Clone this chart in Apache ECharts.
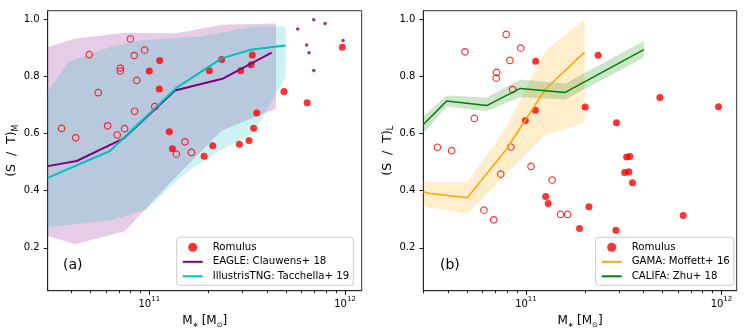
<!DOCTYPE html>
<html>
<head>
<meta charset="utf-8">
<script src="https://cdn.jsdelivr.net/npm/echarts@6/dist/echarts.min.js"></script>
<style>
  html, body { margin: 0; padding: 0; background: #fff; }
  #chart { width: 748px; height: 334px; }
</style>
</head>
<body>
<div id="chart"></div>
<script>
// 数据都是 log10(M*/Msun) 和 S/T 的读数
// (a) 质量加权
var aOpenX = [10.552, 10.624, 10.693, 10.739, 10.787, 10.836, 10.852, 10.852, 10.874, 10.903, 10.923, 10.925, 10.936, 10.976, 11.028, 11.138, 11.182, 11.215];
var aOpenY = [0.618, 0.585, 0.876, 0.743, 0.627, 0.595, 0.829, 0.819, 0.617, 0.931, 0.873, 0.678, 0.786, 0.892, 0.694, 0.528, 0.571, 0.534];
var aFillX = [11.000, 11.053, 11.051, 11.102, 11.118, 11.280, 11.307, 11.324, 11.370, 11.460, 11.467, 11.509, 11.520, 11.526, 11.533, 11.549, 11.688, 11.806, 11.986];
var aFillY = [0.819, 0.856, 0.756, 0.606, 0.547, 0.521, 0.820, 0.557, 0.859, 0.563, 0.820, 0.576, 0.841, 0.875, 0.619, 0.672, 0.747, 0.708, 0.902];
var eagleDotX = [11.758, 11.840, 11.898, 11.804, 11.816, 11.840, 11.990];
var eagleDotY = [0.966, 0.998, 0.985, 0.910, 0.883, 0.821, 0.926];

var eagleX = [10.481, 10.629, 10.867, 11.131, 11.378, 11.625];
var eagleY = [0.486, 0.504, 0.582, 0.751, 0.793, 0.883];
var eagleBandX = [10.481, 10.620, 10.875, 11.131, 11.370, 11.647];
var eagleHi = [0.903, 0.932, 0.953, 0.950, 0.981, 0.985];
var eagleLo = [0.242, 0.213, 0.258, 0.445, 0.611, 0.687];

var tngX = [10.481, 10.799, 11.140, 11.370, 11.523, 11.697];
var tngY = [0.445, 0.539, 0.761, 0.863, 0.894, 0.908];
var tngHiX = [10.481, 10.591, 10.806, 10.952, 11.259, 11.530, 11.697];
var tngHi = [0.749, 0.852, 0.904, 0.926, 0.940, 0.975, 0.975];
var tngLoX = [10.481, 10.799, 10.983, 11.174, 11.361, 11.531, 11.697];
var tngLo = [0.272, 0.296, 0.333, 0.457, 0.541, 0.600, 0.798];

// (b) 光度加权
var bOpenX = [10.547, 10.620, 10.688, 10.736, 10.785, 10.835, 10.850, 10.848, 10.871, 10.899, 10.918, 10.923, 10.932, 10.973, 11.026, 11.134, 11.177, 11.213];
var bOpenY = [0.552, 0.540, 0.886, 0.653, 0.332, 0.298, 0.814, 0.794, 0.458, 0.947, 0.856, 0.553, 0.754, 0.899, 0.485, 0.437, 0.317, 0.317];
var bFillX = [10.997, 11.050, 11.048, 11.101, 11.114, 11.274, 11.303, 11.322, 11.369, 11.460, 11.463, 11.515, 11.531, 11.505, 11.526, 11.545, 11.685, 11.804, 11.985];
var bFillY = [0.646, 0.853, 0.682, 0.380, 0.355, 0.268, 0.693, 0.344, 0.874, 0.262, 0.638, 0.518, 0.520, 0.464, 0.466, 0.428, 0.726, 0.313, 0.694];

var gamaX = [10.475, 10.504, 10.700, 10.900, 11.100, 11.300];
var gamaY = [0.396, 0.391, 0.375, 0.545, 0.756, 0.885];
var gamaHi = [0.436, 0.430, 0.430, 0.623, 0.891, 0.999];
var gamaLo = [0.346, 0.342, 0.319, 0.459, 0.596, 0.637];

var califaX = [10.475, 10.595, 10.799, 10.971, 11.201, 11.603];
var califaY = [0.632, 0.714, 0.698, 0.758, 0.744, 0.894];
var califaHi = [0.661, 0.733, 0.726, 0.789, 0.775, 0.924];
var califaLo = [0.602, 0.695, 0.679, 0.728, 0.719, 0.866];

// 坐标轴刻度
var yTicks = [0.2, 0.4, 0.6, 0.8, 1.0];
var majorTicks = [11, 12];
var minorMult = [2, 3, 4, 5, 6, 7, 8, 9];
var minorTicks = [];
majorTicks.concat([10]).forEach(function (d) {
  minorMult.forEach(function (m) { minorTicks.push(d + Math.log10(m)); });
});

var FONT = 'DejaVu Sans';

function pairs(xs, ys) {
  return xs.map(function (x, i) { return [x, ys[i]]; });
}

// 用自定义系列画误差带多边形
function band(name, hiX, hi, loX, lo, color, axis) {
  var data = pairs(hiX, hi).concat(pairs(loX, lo).reverse());
  return {
    name: name,
    type: 'custom',
    xAxisIndex: axis * 2,
    yAxisIndex: axis,
    silent: true,
    data: data,
    renderItem: function (params, api) {
      if (params.dataIndex !== 0) return;
      var pts = data.map(function (p) { return api.coord(p); });
      return {
        type: 'polygon',
        shape: { points: pts },
        style: { fill: color, stroke: null }
      };
    }
  };
}

function line(name, xs, ys, color, width, axis) {
  return {
    name: name,
    type: 'line',
    xAxisIndex: axis * 2,
    yAxisIndex: axis,
    data: pairs(xs, ys),
    symbol: 'none',
    lineStyle: { color: color, width: width },
    itemStyle: { color: color }
  };
}

function dots(name, xs, ys, size, style, axis) {
  return {
    name: name,
    type: 'scatter',
    xAxisIndex: axis * 2,
    yAxisIndex: axis,
    data: pairs(xs, ys),
    symbol: 'circle',
    symbolSize: size,
    itemStyle: style
  };
}

var grids = [
  { left: 47.7, top: 10.7, width: 314, height: 280 },
  { left: 423.3, top: 10.7, width: 313.4, height: 280 }
];
var xRange = [[10.481, 12.085], [10.475, 12.078]];

var xAxes = [];
var yAxes = [];
var yNames = ['(S  /  T){s|M}', '(S  /  T){s|L}'];
[0, 1].forEach(function (g) {
  xAxes.push({
    type: 'value', gridIndex: g, position: 'bottom',
    min: xRange[g][0], max: xRange[g][1],
    splitLine: { show: false },
    axisLine: { lineStyle: { color: '#222', width: 1 } },
    axisTick: { customValues: majorTicks, length: 4.3, lineStyle: { color: '#222' } },
    axisLabel: {
      customValues: majorTicks, margin: 5,
      formatter: function (v) { return '{b|10}{s|' + Math.round(v) + '}'; },
      rich: {
        b: { fontSize: 10, fontFamily: FONT, color: '#000', lineHeight: 14, verticalAlign: 'bottom' },
        s: { fontSize: 7, fontFamily: FONT, color: '#000', lineHeight: 14, verticalAlign: 'top' }
      }
    },
    name: '{n|M}{s|∗} {n|[M}{s|⊙}{n|]}',
    nameLocation: 'middle', nameGap: 21,
    nameTextStyle: {
      rich: {
        n: { fontSize: 12, fontFamily: FONT, color: '#000', lineHeight: 16 },
        s: { fontSize: 7, fontFamily: FONT, color: '#000', lineHeight: 9, verticalAlign: 'bottom' }
      }
    }
  });
  // 次刻度
  xAxes.push({
    type: 'value', gridIndex: g, position: 'bottom',
    min: xRange[g][0], max: xRange[g][1],
    splitLine: { show: false },
    axisLine: { show: false },
    axisLabel: { show: false },
    axisTick: { customValues: minorTicks, length: 2.6, lineStyle: { color: '#222' } }
  });
  yAxes.push({
    type: 'value', gridIndex: g,
    min: 0.05, max: 1.03,
    splitLine: { show: false },
    axisLine: { show: true, lineStyle: { color: '#222', width: 1 } },
    axisTick: { show: true, customValues: yTicks, length: 4, lineStyle: { color: '#222' } },
    axisLabel: {
      customValues: yTicks, margin: 8, fontSize: 10, fontFamily: FONT, color: '#000',
      formatter: function (v) { return v.toFixed(1); }
    },
    name: yNames[g],
    nameLocation: 'middle', nameGap: 28,
    nameTextStyle: {
      fontSize: 12.5, fontFamily: FONT, color: '#000', lineHeight: 16,
      rich: {
        s: { fontSize: 8, fontFamily: FONT, color: '#000', lineHeight: 9, verticalAlign: 'bottom' }
      }
    }
  });
});

var red = '#ff0000';
var openStyle = { color: 'rgba(0,0,0,0)', borderColor: red, borderWidth: 1.2 };
var fillStyle = { color: red };

var series = [
  band('eagleBand', eagleBandX, eagleHi, eagleBandX, eagleLo, 'rgba(128,0,128,0.2)', 0),
  band('tngBand', tngHiX, tngHi, tngLoX, tngLo, 'rgba(0,191,191,0.2)', 0),
  dots('Romulus', aFillX, aFillY, 7, fillStyle, 0),
  dots('open_a', aOpenX, aOpenY, 6.5, openStyle, 0),
  dots('eagle_dots', eagleDotX, eagleDotY, 3.5, { color: '#800080' }, 0),
  line('EAGLE: Clauwens+ 18', eagleX, eagleY, '#800080', 2, 0),
  line('IllustrisTNG: Tacchella+ 19', tngX, tngY, '#00bfbf', 2, 0),

  band('gamaBand', gamaX, gamaHi, gamaX, gamaLo, 'rgba(255,165,0,0.2)', 1),
  band('califaBand', califaX, califaHi, califaX, califaLo, 'rgba(0,128,0,0.2)', 1),
  dots('Romulus', bFillX, bFillY, 7, fillStyle, 1),
  dots('open_b', bOpenX, bOpenY, 6.5, openStyle, 1),
  line('GAMA: Moffett+ 16', gamaX, gamaY, '#ffa500', 1.5, 1),
  line('CALIFA: Zhu+ 18', califaX, califaY, '#008000', 1.5, 1)
];

// 图例里的线条不要中间的圆点
function lineItem(name) {
  return { name: name, itemStyle: { opacity: 0 } };
}

function legendAt(left, names) {
  return {
    data: [{ name: 'Romulus', icon: 'circle' }].concat(names.map(lineItem)),
    orient: 'vertical', left: left, top: 237.3,
    padding: [5, 4, 4, 5],
    itemWidth: 20, itemHeight: 9, itemGap: 4.5,
    backgroundColor: 'rgba(255,255,255,0.8)',
    borderColor: '#cccccc', borderWidth: 1, borderRadius: 3,
    selectedMode: false,
    textStyle: { fontSize: 10.2, fontFamily: FONT, color: '#000', padding: [0, 0, 0, 5] }
  };
}

var chart = echarts.init(document.getElementById('chart'));
chart.setOption({
  animation: false,
  backgroundColor: '#fff',
  grid: grids.map(function (g) {
    return Object.assign({ show: true, borderColor: '#333', borderWidth: 1, backgroundColor: 'transparent' }, g);
  }),
  xAxis: xAxes,
  yAxis: yAxes,
  legend: [
    legendAt(176.7, ['EAGLE: Clauwens+ 18', 'IllustrisTNG: Tacchella+ 19']),
    legendAt(595.7, ['GAMA: Moffett+ 16', 'CALIFA: Zhu+ 18'])
  ],
  graphic: [
    { type: 'text', left: 63, top: 258, style: { text: '(a)', fontSize: 14, fontFamily: FONT, fill: '#000' } },
    { type: 'text', left: 440, top: 258, style: { text: '(b)', fontSize: 14, fontFamily: FONT, fill: '#000' } }
  ],
  series: series
});
</script>
</body>
</html>
